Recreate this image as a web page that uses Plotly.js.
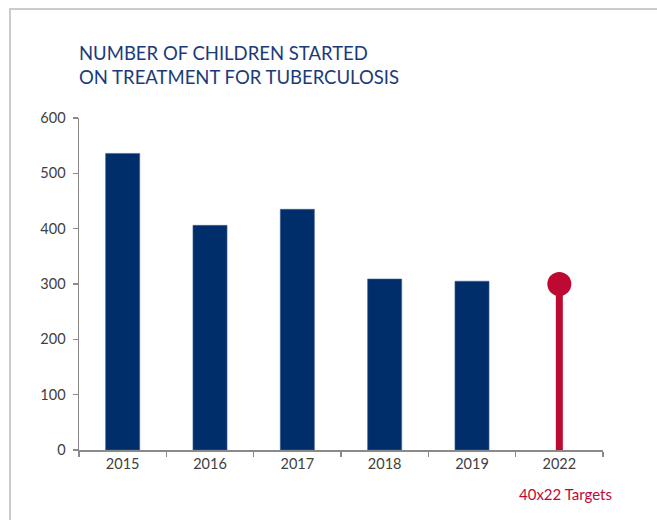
<!DOCTYPE html>
<html>
<head>
<meta charset="utf-8">
<script src="https://cdn.plot.ly/plotly-3.0.1.min.js"></script>
<style>
  html, body { margin: 0; padding: 0; background: #ffffff; }
  #frame { position: absolute; left: 9px; top: 8px; width: 660px; height: 520px;
           border-left: 2px solid #cccccc; border-top: 2px solid #cccccc; box-sizing: border-box; }
  #chart { position: absolute; left: 0; top: 0; width: 657px; height: 520px; }
</style>
</head>
<body>
<div id="frame"></div>
<div id="chart"></div>
<script>
// Data
const years = ['2015', '2016', '2017', '2018', '2019'];
const children = [536, 406, 435, 309, 305];
const targetYears = ['2022'];
const targetValues = [300];
const allCategories = ['2015', '2016', '2017', '2018', '2019', '2022'];
const yTicks = [0, 100, 200, 300, 400, 500, 600];
const titleText = 'NUMBER OF CHILDREN STARTED<br>ON TREATMENT FOR TUBERCULOSIS';
const targetLabel = '40x22 Targets';

const navy = '#002e6b';
const red = '#be0a32';
const fontFam = 'Lato, "Open Sans", sans-serif';

const traces = [
  {
    type: 'bar', x: years, y: children, width: 0.39,
    marker: { color: navy, line: { color: '#3b5f95', width: 0.6 } },
    hoverinfo: 'x+y', showlegend: false
  },
  {
    type: 'bar', x: targetYears, y: targetValues, width: 0.08,
    marker: { color: red }, showlegend: false, hoverinfo: 'skip'
  },
  {
    type: 'scatter', mode: 'markers', x: targetYears, y: targetValues,
    marker: { color: red, size: 24 }, showlegend: false, cliponaxis: false
  }
];

const layout = {
  width: 657, height: 520,
  margin: { l: 79, r: 54, t: 118, b: 70 },
  paper_bgcolor: 'rgba(0,0,0,0)', plot_bgcolor: 'rgba(0,0,0,0)',
  barmode: 'overlay',
  font: { family: fontFam, color: '#404040', size: 14 },
  title: {
    text: titleText,
    font: { family: fontFam, size: 18.5, color: '#1b3a7a' },
    xref: 'paper', x: 0, xanchor: 'left',
    yref: 'container', y: 1 - 60 / 520, yanchor: 'middle'
  },
  xaxis: {
    type: 'category', categoryorder: 'array', categoryarray: allCategories,
    range: [-0.5, 5.5], tickson: 'boundaries',
    ticks: 'outside', ticklen: 5, tickcolor: '#8a8a8a', tickwidth: 1.5,
    showline: true, linecolor: '#8a8a8a', linewidth: 1.5,
    showgrid: false, zeroline: false, fixedrange: true,
    tickfont: { size: 14.5, color: '#404040' }
  },
  yaxis: {
    range: [0, 600], tickvals: yTicks, ticktext: yTicks.map(String),
    ticks: 'outside', ticklen: 5, tickcolor: '#8a8a8a', tickwidth: 1.5,
    ticklabelstandoff: 4,
    showline: true, linecolor: '#8a8a8a', linewidth: 1.5,
    showgrid: false, zeroline: false, fixedrange: true,
    tickfont: { size: 14.5, color: '#404040' }
  },
  annotations: [
    {
      text: targetLabel, xref: 'x', x: allCategories.indexOf('2022'), xshift: 6,
      yref: 'paper', y: -44 / 332, yanchor: 'middle', xanchor: 'center',
      showarrow: false, font: { family: fontFam, size: 15, color: red }
    }
  ]
};

Plotly.newPlot('chart', traces, layout, { displayModeBar: false, staticPlot: true });
</script>
</body>
</html>
